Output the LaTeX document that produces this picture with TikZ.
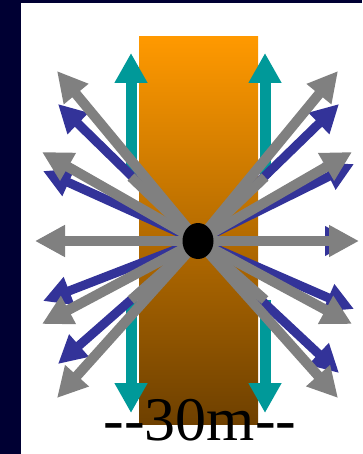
\documentclass[tikz,border=0pt]{standalone}
\usepackage{fontspec}
\setmainfont{Liberation Serif}
\usetikzlibrary{arrows.meta, shapes.geometric}
\definecolor{navy}{RGB}{0,0,51}
\definecolor{soilTop}{RGB}{255,153,0}
\definecolor{soilBottom}{RGB}{110,64,0}
\definecolor{tealArrow}{RGB}{0,153,153}
\definecolor{blueArrow}{RGB}{51,51,153}
\definecolor{grayArrow}{RGB}{128,128,128}
\tikzset{
  grayray/.style={
    draw=grayArrow, line width=10pt,
    -{Triangle[length=30pt, width=30pt]}
  },
  blueray/.style={
    draw=blueArrow, line width=9pt,
    -{Triangle[length=28pt, width=28pt]}
  },
  grayspoke/.style={draw=grayArrow, line width=10pt},
  tealray/.style={
    draw=tealArrow, line width=11pt,
    -{Triangle[length=30pt, width=31pt]}
  },
  hubdot/.style={
    ellipse, fill=black,
    minimum width=31pt, minimum height=36pt, inner sep=0pt
  },
  sizelabel/.style={font=\fontsize{62}{62}\selectfont, inner sep=0pt, anchor=base}
}

\begin{document}
\begin{tikzpicture}[x=1pt, y=-1pt]

  \useasboundingbox (0,0) rectangle (362,454);

  % Frame
  \fill[navy] (0,0) rectangle (362,454);
  \fill[white] (21,3) rectangle (362,454);

  % Soil column
  \shade[top color=soilTop, bottom color=soilBottom]
    (139,37) rectangle (258,424);

  \coordinate (hub) at (198,241);

  % Vertical flow
  \coordinate (tl-a) at (131,177);  \coordinate (tl-b) at (131,53);
  \coordinate (tr-a) at (265,177);  \coordinate (tr-b) at (265,53);
  \coordinate (bl-a) at (131,300);  \coordinate (bl-b) at (131,413);
  \coordinate (br-a) at (265,300);  \coordinate (br-b) at (265,413);
  \draw[tealray] (tl-a) -- (tl-b);
  \draw[tealray] (tr-a) -- (tr-b);
  \draw[tealray] (bl-a) -- (bl-b);
  \draw[tealray] (br-a) -- (br-b);

  % Blue rays
  \foreach \tx/\ty [count=\i] in {36/241, 58/104, 43/171, 43/301, 58/364,
                                  353/241, 339/104, 354/164, 354/309, 339/373}{
    \coordinate (btip\i) at (\tx,\ty);
    \draw[blueray] (hub) -- (btip\i);
  }

  % Gray rays
  \foreach \tx/\ty [count=\i] in {35/241, 57/71, 42/152, 42/324, 57/398,
                                  359/241, 338/71, 352/152, 352/324, 338/398}{
    \coordinate (gtip\i) at (\tx,\ty);
    \draw[grayray] (hub) -- (gtip\i);
  }
  \draw[grayspoke] (hub) -- (tl-a);
  \draw[grayspoke] (hub) -- (tr-a);
  \draw[grayspoke] (hub) -- (bl-a);
  \draw[grayspoke] (hub) -- (br-a);

  % Source
  \node[hubdot] (dot) at (hub) {};

  % Width label
  \node[sizelabel] (width) at (200,440) {{-}{-}30m{-}{-}};

\end{tikzpicture}
\end{document}
